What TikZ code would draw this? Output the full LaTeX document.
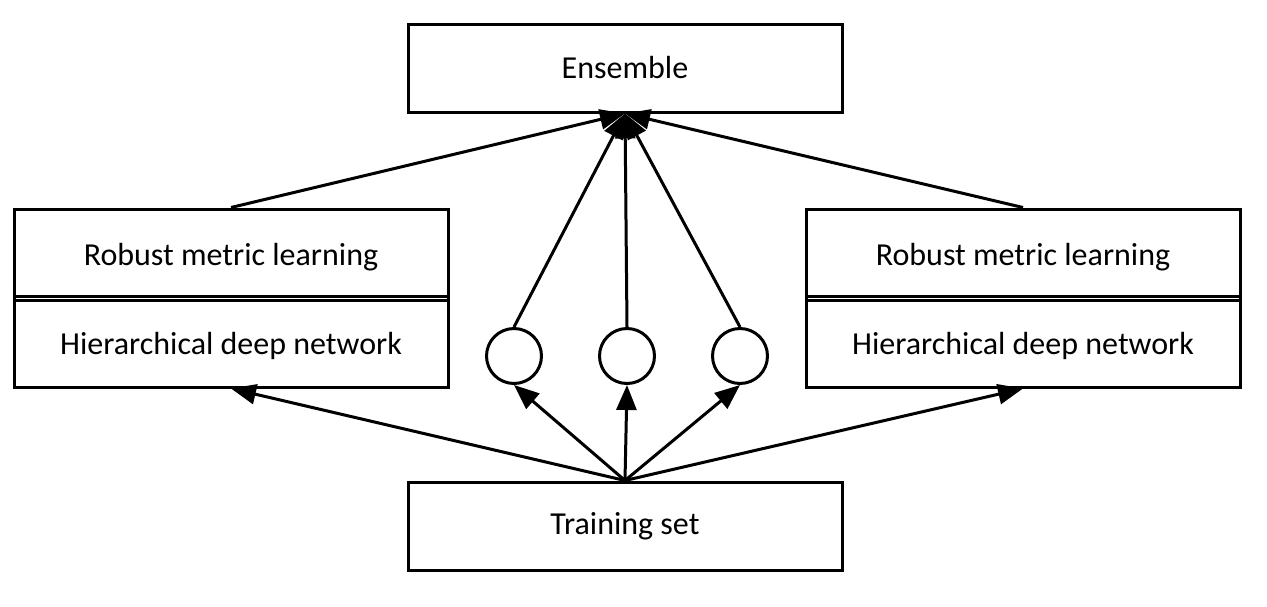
\documentclass[tikz,border=0pt]{standalone}
\usepackage{fontspec}
\setmainfont{Carlito}
\usetikzlibrary{arrows.meta}
\begin{document}
\begin{tikzpicture}[x=1pt, y=-1pt, line width=3pt,
    box/.style={draw, minimum width=434pt, minimum height=88pt, inner sep=0pt},
    lbl/.style={font=\fontsize{32}{36}\selectfont},
    unit/.style={draw, circle, minimum size=55pt, inner sep=0pt},
    arr/.style={-{Triangle[length=25pt, width=20pt]}}]
    \useasboundingbox (0,0) rectangle (1267,606);

    % top and bottom boxes
    \node[box, lbl] (ens)   at (625,68)  {Ensemble};
    \node[box, lbl] (train) at (625,526) {Training set};

    % two learners, each split by a double rule
    \node[box, minimum height=178pt] (left)  at (231,298)  {};
    \node[box, minimum height=178pt] (right) at (1023,298) {};
    \draw (left.west)  ++(0,-2) -- ++(434,0);
    \draw (left.west)  ++(0,2)  -- ++(434,0);
    \draw (right.west) ++(0,-2) -- ++(434,0);
    \draw (right.west) ++(0,2)  -- ++(434,0);
    \node[lbl] (lrml) at (231,257)  {Robust metric learning};
    \node[lbl] (lhdn) at (231,346)  {Hierarchical deep network};
    \node[lbl] (rrml) at (1023,257) {Robust metric learning};
    \node[lbl] (rhdn) at (1023,346) {Hierarchical deep network};

    % base learners in the middle
    \node[unit] (c1) at (514,356) {};
    \node[unit] (c2) at (627,356) {};
    \node[unit] (c3) at (740,356) {};

    % training set feeds everything
    \draw[arr] (train.north) -- (left.south);
    \draw[arr] (train.north) -- (right.south);
    \foreach \c in {c1,c2,c3} {
        \draw[arr] (train.north) -- (\c.south);
        \draw[arr] (\c.north) -- (ens.south);
    }
    \draw[arr] (left.north)  -- (ens.south);
    \draw[arr] (right.north) -- (ens.south);
\end{tikzpicture}
\end{document}
